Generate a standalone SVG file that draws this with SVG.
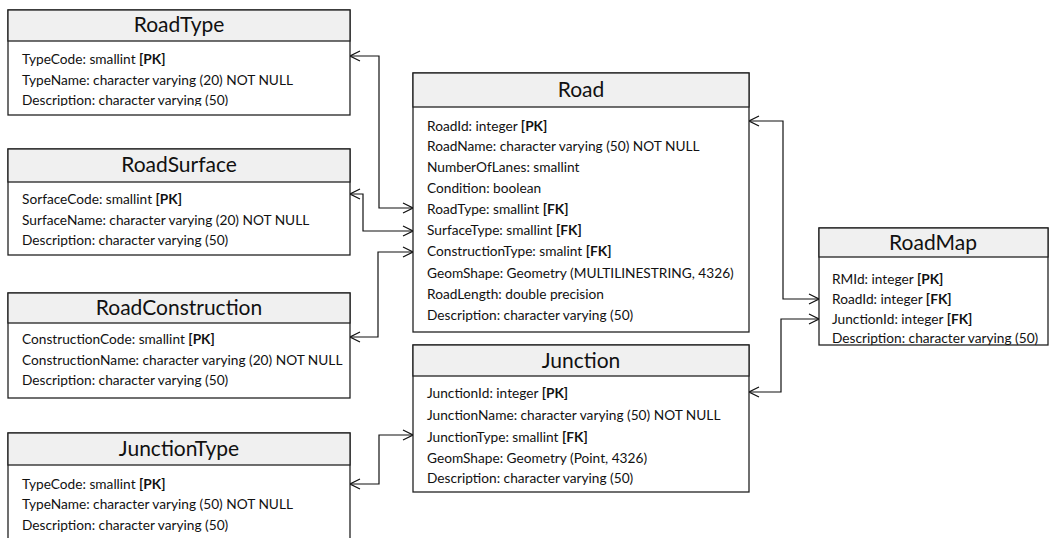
<svg xmlns="http://www.w3.org/2000/svg" width="1053" height="538" viewBox="0 0 1053 538">
  <style>
    .box { fill: #ffffff; stroke: #222222; stroke-width: 1.3; }
    .head { fill: #f0f0f0; stroke: #222222; stroke-width: 1.3; }
    .title { font-family: Lato, "Open Sans", "Liberation Sans", sans-serif; font-size: 21px; fill: #111111; text-anchor: middle; }
    .row { font-family: Lato, "Open Sans", "Liberation Sans", sans-serif; font-size: 13.7px; fill: #111111; }
    .k { font-weight: bold; }
    .link { fill: none; stroke: #111111; stroke-width: 1.2; marker-start: url(#chev); marker-end: url(#chev); }
  </style>
  <defs>
    <marker id="chev" viewBox="0 0 12 12" refX="11" refY="6" markerWidth="12" markerHeight="12" markerUnits="userSpaceOnUse" orient="auto-start-reverse">
      <path d="M1,1 L11,6 L1,11" fill="none" stroke="#111111" stroke-width="1.2"/>
    </marker>
    <!-- field area of RoadType is cut short just below the last row -->
    <clipPath id="roadTypeFields">
      <rect x="8" y="41" width="342" height="65"/>
    </clipPath>
  </defs>

  <rect width="1053" height="538" fill="#ffffff"/>

  <!-- relationship lines between tables -->
  <g id="connectors">
    <polyline class="link" points="350,56 379,56 379,208 413,208"/>
    <polyline class="link" points="350,194 363,194 363,231 413,231"/>
    <polyline class="link" points="350,337 378,337 378,252 413,252"/>
    <polyline class="link" points="350,484 379,484 379,435 413,435"/>
    <polyline class="link" points="749,121 783,121 783,299 819,299"/>
    <polyline class="link" points="749,392 781,392 781,319 819,319"/>
  </g>

  <g id="RoadType">
    <rect class="box" x="8" y="10" width="342" height="105"/>
    <rect class="head" x="8" y="10" width="342" height="31"/>
    <text class="title" x="179" y="32">RoadType</text>
    <g clip-path="url(#roadTypeFields)">
      <text class="row" x="22" y="64">TypeCode: smallint <tspan class="k">[PK]</tspan></text>
      <text class="row" x="22" y="85">TypeName: character varying (20) NOT NULL</text>
      <text class="row" x="22" y="105">Description: character varying (50)</text>
    </g>
  </g>

  <g id="RoadSurface">
    <rect class="box" x="8" y="149" width="342" height="106"/>
    <rect class="head" x="8" y="149" width="342" height="33"/>
    <text class="title" x="179" y="172">RoadSurface</text>
    <text class="row" x="22" y="204">SorfaceCode: smallint <tspan class="k">[PK]</tspan></text>
    <text class="row" x="22" y="225">SurfaceName: character varying (20) NOT NULL</text>
    <text class="row" x="22" y="245">Description: character varying (50)</text>
  </g>

  <g id="RoadConstruction">
    <rect class="box" x="8" y="293" width="342" height="105"/>
    <rect class="head" x="8" y="293" width="342" height="30"/>
    <text class="title" x="179" y="315">RoadConstruction</text>
    <text class="row" x="22" y="344">ConstructionCode: smallint <tspan class="k">[PK]</tspan></text>
    <text class="row" x="22" y="365">ConstructionName: character varying (20) NOT NULL</text>
    <text class="row" x="22" y="385">Description: character varying (50)</text>
  </g>

  <g id="JunctionType">
    <rect class="box" x="8" y="433" width="342" height="115"/>
    <rect class="head" x="8" y="433" width="342" height="32"/>
    <text class="title" x="179" y="456">JunctionType</text>
    <text class="row" x="22" y="489">TypeCode: smallint <tspan class="k">[PK]</tspan></text>
    <text class="row" x="22" y="509">TypeName: character varying (50) NOT NULL</text>
    <text class="row" x="22" y="530">Description: character varying (50)</text>
  </g>

  <g id="Road">
    <rect class="box" x="413" y="73" width="336" height="259"/>
    <rect class="head" x="413" y="73" width="336" height="34"/>
    <text class="title" x="581" y="97">Road</text>
    <text class="row" x="427" y="131">RoadId: integer <tspan class="k">[PK]</tspan></text>
    <text class="row" x="427" y="151">RoadName: character varying (50) NOT NULL</text>
    <text class="row" x="427" y="172">NumberOfLanes: smallint</text>
    <text class="row" x="427" y="193">Condition: boolean</text>
    <text class="row" x="427" y="214">RoadType: smallint <tspan class="k">[FK]</tspan></text>
    <text class="row" x="427" y="235">SurfaceType: smallint <tspan class="k">[FK]</tspan></text>
    <text class="row" x="427" y="256">ConstructionType: smalint <tspan class="k">[FK]</tspan></text>
    <text class="row" x="427" y="278">GeomShape: Geometry (MULTILINESTRING, 4326)</text>
    <text class="row" x="427" y="299">RoadLength: double precision</text>
    <text class="row" x="427" y="320">Description: character varying (50)</text>
  </g>

  <g id="Junction">
    <rect class="box" x="413" y="345" width="336" height="147"/>
    <rect class="head" x="413" y="345" width="336" height="31"/>
    <text class="title" x="581" y="368">Junction</text>
    <text class="row" x="427" y="398">JunctionId: integer <tspan class="k">[PK]</tspan></text>
    <text class="row" x="427" y="420">JunctionName: character varying (50) NOT NULL</text>
    <text class="row" x="427" y="442">JunctionType: smallint <tspan class="k">[FK]</tspan></text>
    <text class="row" x="427" y="463">GeomShape: Geometry (Point, 4326)</text>
    <text class="row" x="427" y="483">Description: character varying (50)</text>
  </g>

  <g id="RoadMap">
    <rect class="box" x="819" y="228" width="229" height="117"/>
    <rect class="head" x="819" y="228" width="229" height="29"/>
    <text class="title" x="933" y="250">RoadMap</text>
    <text class="row" x="832" y="284">RMId: integer <tspan class="k">[PK]</tspan></text>
    <text class="row" x="832" y="304">RoadId: integer <tspan class="k">[FK]</tspan></text>
    <text class="row" x="832" y="324">JunctionId: integer <tspan class="k">[FK]</tspan></text>
    <text class="row" x="832" y="343">Description: character varying (50)</text>
  </g>
</svg>
